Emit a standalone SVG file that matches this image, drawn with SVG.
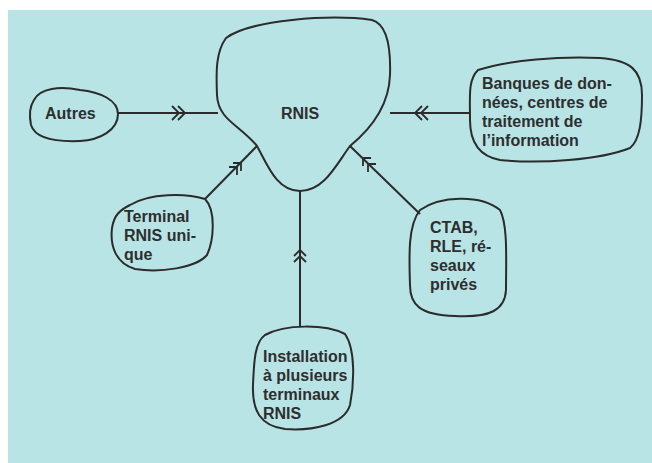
<svg xmlns="http://www.w3.org/2000/svg" width="652" height="463" viewBox="0 0 652 463">
<style>
.blob{fill:none;stroke:#2b2b2b;stroke-width:2;stroke-linejoin:round}
.ln{fill:none;stroke:#2b2b2b;stroke-width:2}
.chev{fill:none;stroke:#2b2b2b;stroke-width:1.8;stroke-linejoin:miter}
text{font-family:"Liberation Sans",Arial,sans-serif;font-weight:bold;font-size:16px;fill:#2e2e2e}
</style>
<rect x="0" y="0" width="652" height="463" fill="#ffffff"/>
<rect x="8" y="10" width="644" height="453" fill="#b9e4e6"/>
<g id="connectors">
<line class="ln" x1="118" y1="113" x2="218" y2="113"/>
<path class="chev" d="M172 106 L179 113 L172 120 M178 106 L185 113 L178 120"/>
<line class="ln" x1="390" y1="113" x2="470" y2="113"/>
<path class="chev" d="M428 106 L421 113 L428 120 M422 106 L415 113 L422 120"/>
<line class="ln" x1="205" y1="199" x2="257" y2="146"/>
<path class="chev" d="M229 167 L237 167 L237 175 M233 163 L241 163 L241 171"/>
<line class="ln" x1="300" y1="191" x2="300" y2="327"/>
<path class="chev" d="M294 262 L300 256 L306 262 M294 256 L300 250 L306 256"/>
<line class="ln" x1="420" y1="214" x2="350" y2="146"/>
<path class="chev" d="M376 164 L368 164 L368 172 M371 158 L363 158 L363 166"/>
</g>
<g id="rnis">
<path class="blob" d="M226 38 C250 20 330 14 372 20 C386 24 391 45 390 75 C389 105 372 128 350 146 C336 165 324 191 300 191 C277 191 268 166 257 146 C240 125 218 120 217 95 C216 70 216 52 226 38 Z"/>
<text x="300" y="119" text-anchor="middle">RNIS</text>
</g>
<g id="autres">
<path class="blob" d="M34 100 C40 88 60 86 80 90 C100 92 118 100 118 114 C118 130 100 140 80 141 C55 142 35 138 31 125 C29 115 30 106 34 100 Z"/>
<text x="45" y="119">Autres</text>
</g>
<g id="banques">
<path class="blob" d="M478 70 C510 60 560 56 600 58 C630 60 642 70 642 95 C642 120 640 140 630 148 C600 160 540 164 500 160 C478 156 470 140 470 120 C470 95 468 80 478 70 Z"/>
<text x="482" y="89">Banques de don-</text>
<text x="482" y="108">nées, centres de</text>
<text x="482" y="127">traitement de</text>
<text x="482" y="146">l’information</text>
</g>
<g id="terminal">
<path class="blob" d="M130 205 C150 193 185 193 205 199 C216 210 214 240 207 255 C196 268 160 273 135 269 C115 263 110 245 112 228 C114 215 120 210 130 205 Z"/>
<text x="124" y="222">Terminal</text>
<text x="124" y="241">RNIS uni-</text>
<text x="124" y="260">que</text>
</g>
<g id="ctab">
<path class="blob" d="M420 210 C440 196 480 194 500 210 C508 225 506 260 506 290 C505 310 490 318 455 316 C420 315 410 305 410 285 C409 255 408 225 420 210 Z"/>
<text x="430" y="233">CTAB,</text>
<text x="430" y="252">RLE, ré-</text>
<text x="430" y="271">seaux</text>
<text x="430" y="290">privés</text>
</g>
<g id="installation">
<path class="blob" d="M265 335 C285 324 325 324 345 334 C356 350 354 385 350 405 C344 425 312 431 285 429 C260 426 252 410 253 385 C254 360 255 342 265 335 Z"/>
<text x="263" y="362">Installation</text>
<text x="263" y="381">à plusieurs</text>
<text x="263" y="400">terminaux</text>
<text x="263" y="419">RNIS</text>
</g>
</svg>
